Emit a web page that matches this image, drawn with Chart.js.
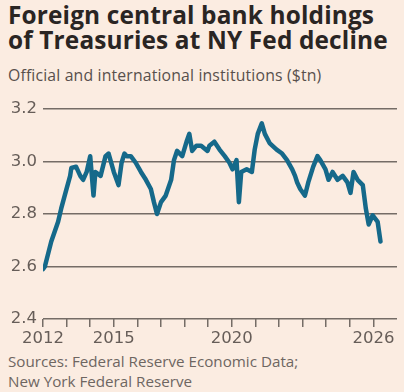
<!DOCTYPE html>
<html>
<head>
<meta charset="utf-8">
<script src="https://cdn.jsdelivr.net/npm/chart.js@4.4.1/dist/chart.umd.min.js"></script>
<style>
  html, body { margin: 0; padding: 0; }
  body { width: 404px; height: 392px; background: #fbece1; position: relative; overflow: hidden; font-family: 'Open Sans', sans-serif; }
  .title { position: absolute; left: 8px; top: 2px; font-size: 24.4px; line-height: 25px; font-weight: 700; color: #2a2523; white-space: nowrap; letter-spacing: 0.15px; }
  .sub { position: absolute; left: 8px; top: 64px; font-size: 15.8px; color: #58504c; white-space: nowrap; letter-spacing: 0.15px; }
  .src { position: absolute; left: 8px; top: 351px; font-size: 15.2px; line-height: 20px; color: #6e6661; white-space: nowrap; }
  #wrap { position: absolute; left: 0; top: 93px; width: 404px; height: 259px; }
</style>
</head>
<body>
<div class="title">Foreign central bank holdings<br>of Treasuries at NY Fed decline</div>
<div class="sub">Official and international institutions ($tn)</div>
<div class="src">Sources: Federal Reserve Economic Data;<br>New York Federal Reserve</div>
<div id="wrap"><canvas id="c"></canvas></div>
<script>
/* ── data ── */
const years = [
  2012.0, 2012.08, 2012.35, 2012.64, 2012.77, 2012.98, 2013.15, 2013.2, 2013.4, 2013.58,
  2013.7, 2013.85, 2014.0, 2014.14, 2014.22, 2014.44, 2014.65, 2014.78, 2015.0, 2015.2,
  2015.33, 2015.45, 2015.55, 2015.72, 2015.93, 2016.15, 2016.36, 2016.57, 2016.7, 2016.83,
  2017.0, 2017.2, 2017.43, 2017.55, 2017.68, 2017.9, 2018.1, 2018.2, 2018.32, 2018.5,
  2018.7, 2018.97, 2019.05, 2019.26, 2019.48, 2019.7, 2019.9, 2020.03, 2020.2, 2020.3,
  2020.4, 2020.63, 2020.85, 2020.97, 2021.1, 2021.27, 2021.4, 2021.6, 2021.9, 2022.13,
  2022.34, 2022.56, 2022.68, 2022.77, 2022.9, 2023.1, 2023.24, 2023.45, 2023.63, 2023.75,
  2023.97, 2024.1, 2024.27, 2024.48, 2024.7, 2024.9, 2025.03, 2025.16, 2025.33, 2025.55,
  2025.68, 2025.8, 2025.97, 2026.18, 2026.3
];
const holdings = [
  2.59, 2.60, 2.695, 2.77, 2.82, 2.89, 2.945, 2.975, 2.98, 2.945,
  2.93, 2.96, 3.02, 2.87, 2.96, 2.945, 3.02, 3.03, 2.96, 2.91,
  2.995, 3.03, 3.02, 3.02, 2.995, 2.96, 2.93, 2.895, 2.845, 2.80,
  2.845, 2.87, 2.93, 3.005, 3.04, 3.02, 3.08, 3.105, 3.04, 3.06,
  3.06, 3.04, 3.06, 3.075, 3.045, 3.02, 2.995, 2.97, 3.005, 2.845,
  2.96, 2.97, 2.96, 3.045, 3.105, 3.145, 3.105, 3.07, 3.045, 3.03,
  3.005, 2.97, 2.945, 2.92, 2.895, 2.87, 2.92, 2.98, 3.02, 3.005,
  2.97, 2.93, 2.96, 2.93, 2.945, 2.92, 2.88, 2.96, 2.93, 2.91,
  2.82, 2.76, 2.795, 2.77, 2.695
];
const tickYears  = [2012, 2013, 2014, 2015, 2016, 2017, 2018, 2019, 2020, 2021, 2022, 2023, 2024, 2025, 2026];
const labelYears = [2012, 2015, 2020, 2026];
const yTicks     = [2.4, 2.6, 2.8, 3.0, 3.2];

const INK  = '#665d58';
const GRID = '#756c66';
const LINE = '#15698a';
const TICK_FONT = { family: 'DejaVu Sans', size: 16.5 };

new Chart(document.getElementById('c'), {
  type: 'line',
  data: {
    datasets: [{
      data: years.map((x, i) => ({ x, y: holdings[i] })),
      borderColor: LINE, borderWidth: 4.5, pointRadius: 0, tension: 0,
      borderJoinStyle: 'round', borderCapStyle: 'round',
    }],
  },
  options: {
    responsive: true, maintainAspectRatio: false, animation: false,
    layout: { padding: { top: 12, right: 7, left: 0, bottom: 0 } },
    plugins: { legend: { display: false }, tooltip: { enabled: false } },
    scales: {
      x: {
        type: 'linear', min: 2012, max: 2027,
        afterBuildTicks: s => { s.ticks = tickYears.map(v => ({ value: v })); },
        afterFit: s => { s.height = 33; },
        ticks: {
          autoSkip: false, maxRotation: 0, padding: 2,
          color: INK, font: TICK_FONT,
          callback: v => labelYears.includes(v) ? String(v) : '',
        },
        grid: { drawOnChartArea: false, drawTicks: true, tickLength: 8, color: GRID, lineWidth: 1.5 },
        border: { display: false },
      },
      y: {
        min: 2.4, max: 3.2,
        afterBuildTicks: s => { s.ticks = yTicks.map(v => ({ value: v })); },
        afterFit: s => { s.width = 43; },
        ticks: {
          padding: 6, color: INK, font: TICK_FONT,
          callback: v => v.toFixed(1),
        },
        grid: { drawTicks: false, color: GRID, lineWidth: 1.5 },
        border: { display: false },
      },
    },
  },
});
</script>
</body>
</html>
